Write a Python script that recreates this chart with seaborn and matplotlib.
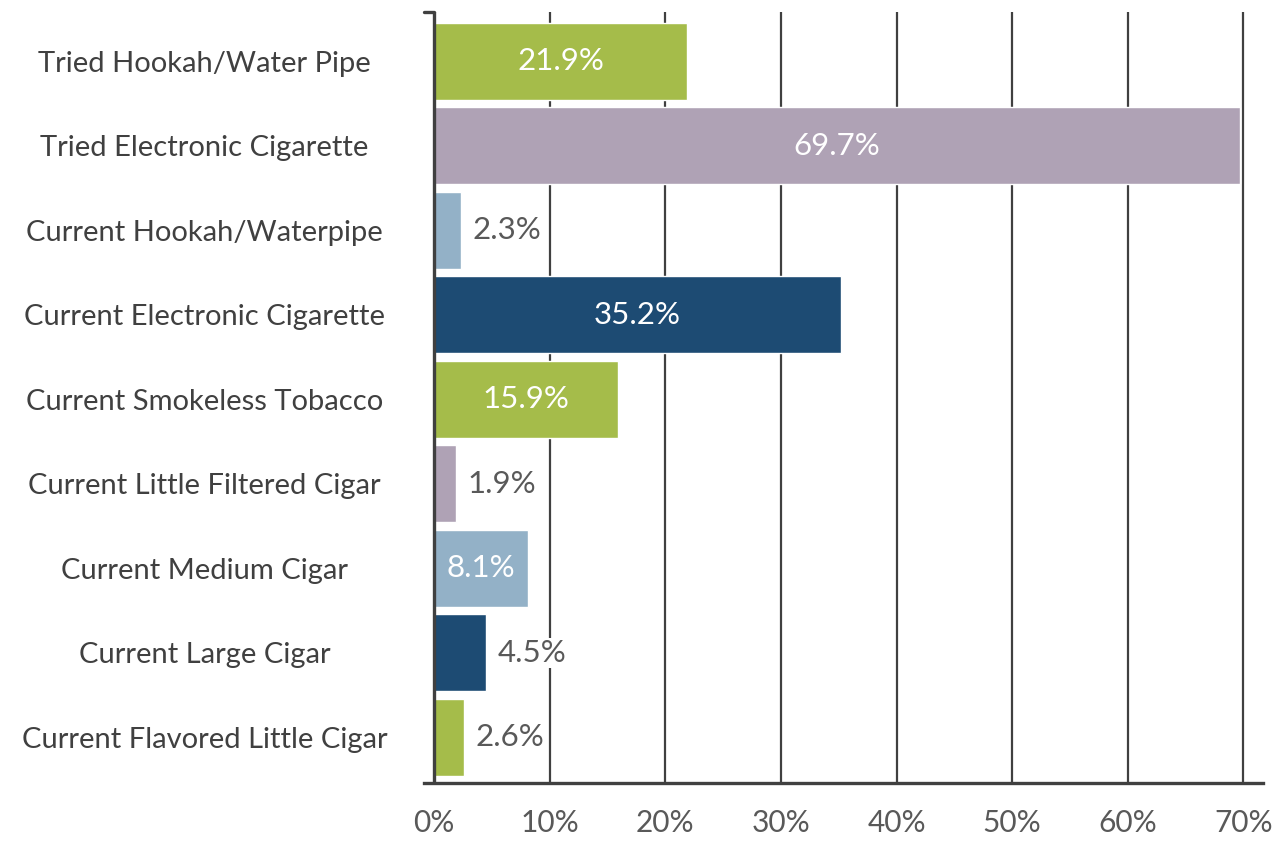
import seaborn as sns
import matplotlib.pyplot as plt
import pandas as pd

categories = [
    "Tried Hookah/Water Pipe",
    "Tried Electronic Cigarette",
    "Current Hookah/Waterpipe",
    "Current Electronic Cigarette",
    "Current Smokeless Tobacco",
    "Current Little Filtered Cigar",
    "Current Medium Cigar",
    "Current Large Cigar",
    "Current Flavored Little Cigar",
]
values = [21.9, 69.7, 2.3, 35.2, 15.9, 1.9, 8.1, 4.5, 2.6]
inside = [True, True, False, True, True, False, True, False, False]
bar_colors = ["#A5BC4A", "#AFA2B5", "#93B1C7", "#1D4B73", "#A5BC4A",
              "#AFA2B5", "#93B1C7", "#1D4B73", "#A5BC4A"]
xticks = [0, 10, 20, 30, 40, 50, 60, 70]

df = pd.DataFrame({"Category": categories, "Value": values})

sns.set_style("white")
plt.rcParams['font.family'] = ['Lato', 'DejaVu Sans']

fig = plt.figure(figsize=(12.88, 8.42), dpi=100)
ax = fig.add_axes([0.3292, 0.0701, 0.6514, 0.9156])

sns.barplot(data=df, y="Category", x="Value", hue="Category",
            palette=bar_colors, orient="h", width=0.91, saturation=1,
            legend=False, ax=ax)

ax.set_xlim(-0.87, 71.7)
ax.set_ylim(8.54, -0.58)
ax.set_xticks(xticks)
ax.set_xticklabels([f"{t}%" for t in xticks])
ax.set_xlabel("")
ax.set_ylabel("")

grid_c = "#404040"
for t in xticks[1:]:
    ax.axvline(t, color=grid_c, lw=1.6, zorder=0)
ax.axvline(0, color=grid_c, lw=2.4, zorder=5)
ax.plot([-0.87, 0], [-0.58, -0.58], color=grid_c, lw=2.4, clip_on=False)

for s in ["top", "right", "left"]:
    ax.spines[s].set_visible(False)
ax.spines["bottom"].set_color(grid_c)
ax.spines["bottom"].set_linewidth(2.4)

ax.tick_params(axis="x", direction="out", length=14.5, width=1.6,
               color=grid_c, labelsize=21.5, labelcolor="#595959", pad=4)
ax.tick_params(axis="y", length=0, labelsize=21, labelcolor="#404040", pad=158)
for lbl in ax.get_yticklabels():
    lbl.set_ha("center")

for i, (v, ins) in enumerate(zip(values, inside)):
    if ins:
        ax.text(v / 2, i, f"{v}%", color="white", fontsize=22.5,
                ha="center", va="center")
    else:
        ax.text(v + 1.0, i, f"{v}%", color="#595959", fontsize=22.5,
                ha="left", va="center", zorder=6,
                bbox=dict(facecolor="white", edgecolor="none", pad=1))

fig.savefig("out.png", dpi=100)
